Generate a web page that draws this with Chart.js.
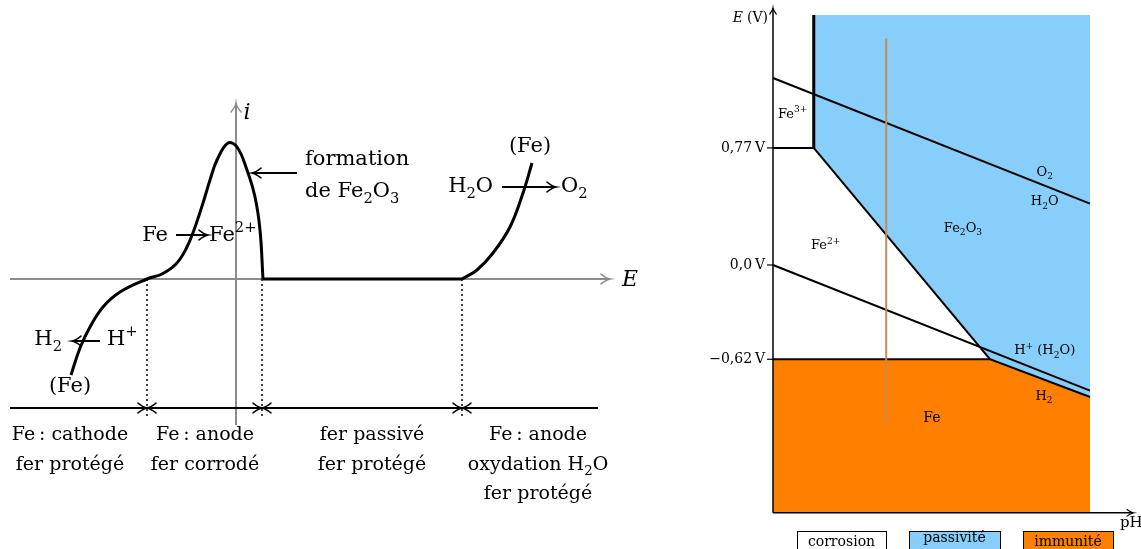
<!DOCTYPE html>
<html>
<head>
<meta charset="utf-8">
<script src="https://cdn.jsdelivr.net/npm/chart.js@4/dist/chart.umd.min.js"></script>
<style>
html, body { margin: 0; padding: 0; background: #fff; overflow: hidden; }
#left { position: absolute; left: 0; top: 0; }
#right { position: absolute; left: 680px; top: 0; }
</style>
</head>
<body>
<canvas id="left" width="680" height="549"></canvas>
<canvas id="right" width="461" height="549"></canvas>
<script>
// ---------- left chart : i = f(E) (arbitrary units) ----------
var activeE = [-16.5, -15.6, -14.6, -13.3, -11.6, -8.9, -7.4, -6.0, -5.0, -4.2, -3.3, -2.6, -1.9, -0.8, 0.1, 1.1, 1.9, 2.4, 2.7];
var activeI = [-9.6, -6.9, -4.8, -2.8, -1.3, 0, 0.5, 1.5, 3.0, 4.9, 7.6, 9.9, 11.9, 13.6, 13.2, 10.9, 8.2, 4.9, 0];
var passiveE = [2.7, 22.6];
var passiveI = [0, 0];
var transE = [22.6, 24.1, 25.7, 27.4, 28.7, 29.6];
var transI = [0, 0.9, 2.6, 5.2, 8.6, 11.6];
var boundaryE = [-8.9, 2.6, 22.6];          // dotted limits between zones
var zoneCenterE = [-16.6, -3.1, 13.6, 30.2];
var zoneLabels = [
    ["Fe\u2009: cathode", "fer protégé"],
    ["Fe\u2009: anode", "fer corrodé"],
    ["fer passivé", "fer protégé"],
    ["Fe\u2009: anode", "oxydation H_2O", "fer protégé"]
];

// ---------- right chart : E = f(pH) ----------
var pHmax = 14;
var eTop = 1.645, eBottom = -1.63;
var eFe3 = 0.77, eFe = -0.62;
var pHFe3 = 1.8, pHFe2 = 9.58;
var eFeOxEnd = -0.868;
var o2E = [1.23, 0.404];
var h2E = [0, -0.826];
var samplePH = 5, sampleE = [1.49, -1.04];
var tickE = [0.77, 0, -0.62];
var tickLabels = ["0,77\u2009V", "0,0\u2009V", "\u22120,62\u2009V"];
var legendNames = ["corrosion", "passivité", "immunité"];
var legendColors = ["#ffffff", "#87CEFA", "#FF8000"];

var SERIF = "'DejaVu Serif', serif";

// splits "Fe_2O_3", "Fe^{2+}" into normal / sub / sup parts
function parseRich(s) {
    var parts = [], buf = "", i = 0;
    while (i < s.length) {
        var c = s[i];
        if (c === "_" || c === "^") {
            if (buf) { parts.push({ t: buf, k: 0 }); buf = ""; }
            var t;
            if (s[i + 1] === "{") { var j = s.indexOf("}", i); t = s.slice(i + 2, j); i = j + 1; }
            else { t = s[i + 1]; i += 2; }
            parts.push({ t: t, k: c === "_" ? -1 : 1 });
        } else { buf += c; i++; }
    }
    if (buf) parts.push({ t: buf, k: 0 });
    return parts;
}

function drawRich(ctx, s, x, y, size, align, italic) {
    var parts = parseRich(s);
    var st = italic ? "italic " : "";
    var w = 0;
    parts.forEach(function (p) {
        ctx.font = st + (p.k ? size * 0.7 : size) + "px " + SERIF;
        p.w = ctx.measureText(p.t).width;
        w += p.w;
    });
    var cx = align === "center" ? x - w / 2 : align === "right" ? x - w : x;
    ctx.textAlign = "left";
    ctx.textBaseline = "middle";
    parts.forEach(function (p) {
        ctx.font = st + (p.k ? size * 0.7 : size) + "px " + SERIF;
        var dy = p.k === -1 ? size * 0.32 : p.k === 1 ? -size * 0.35 : 0;
        ctx.fillText(p.t, cx, y + dy);
        cx += p.w;
    });
}

// LaTeX like arrow tip at (x2,y2)
function arrowHead(ctx, x1, y1, x2, y2, len, color, lw) {
    var a = Math.atan2(y2 - y1, x2 - x1);
    ctx.save();
    ctx.strokeStyle = color;
    ctx.lineWidth = lw;
    ctx.lineCap = "round";
    ctx.translate(x2, y2);
    ctx.rotate(a);
    ctx.beginPath();
    ctx.moveTo(-len, -len * 0.55);
    ctx.quadraticCurveTo(-len * 0.35, -len * 0.05, 0, 0);
    ctx.quadraticCurveTo(-len * 0.35, len * 0.05, -len, len * 0.55);
    ctx.stroke();
    ctx.restore();
}

function zip(xs, ys) {
    return xs.map(function (x, k) { return { x: x, y: ys[k] }; });
}

function seg(x1, y1, x2, y2) { return [{ x: x1, y: y1 }, { x: x2, y: y2 }]; }

function lineSet(data, color, width, extra) {
    var d = { data: data, showLine: true, borderColor: color, borderWidth: width,
        pointRadius: 0, fill: false, clip: false, tension: 0 };
    for (var k in extra) d[k] = extra[k];
    return d;
}

function baseOptions(xmin, xmax, ymin, ymax) {
    return {
        responsive: false,
        animation: false,
        layout: { padding: 0 },
        events: [],
        plugins: { legend: { display: false }, tooltip: { enabled: false } },
        scales: {
            x: { type: "linear", display: false, min: xmin, max: xmax },
            y: { type: "linear", display: false, min: ymin, max: ymax }
        }
    };
}

// ---------- left chart ----------
var eMin = -22.6, eMax = 37.4, eBarEnd = 36.2, iAxisMin = -14.6, iAxisMax = 17.6, iBar = -12.9;

var leftSets = [
    lineSet(zip(activeE, activeI), "#000", 3, { tension: 0.4, order: 0 }),
    lineSet(zip(passiveE, passiveI), "#000", 3, { order: 0 }),
    lineSet(zip(transE, transI), "#000", 3, { tension: 0.4, order: 0 }),
    lineSet(seg(eMin, 0, eMax, 0), "#8c8c8c", 2, { order: 2 }),
    lineSet(seg(0, iAxisMin, 0, iAxisMax), "#8c8c8c", 2, { order: 2 }),
    lineSet(seg(eMin, iBar, eBarEnd, iBar), "#000", 2, { order: 1 })
];
boundaryE.forEach(function (b) {
    leftSets.push(lineSet(seg(b, 0, b, iBar - 0.9), "#000", 1.5, { borderDash: [2, 3], order: 1 }));
});

var leftNotes = {
    id: "leftNotes",
    afterDatasetsDraw: function (chart) {
        var ctx = chart.ctx, sx = chart.scales.x, sy = chart.scales.y;
        var X = function (v) { return sx.getPixelForValue(v); };
        var Y = function (v) { return sy.getPixelForValue(v); };
        ctx.save();
        ctx.fillStyle = "#000";
        // axis arrows
        arrowHead(ctx, X(eMin), Y(0), X(eMax), Y(0), 9, "#8c8c8c", 1.5);
        arrowHead(ctx, X(0), Y(iAxisMin), X(0), Y(iAxisMax), 9, "#8c8c8c", 1.5);
        drawRich(ctx, "E", X(39.4), Y(-0.1), 22, "center", true);
        drawRich(ctx, "i", X(1.1), Y(16.6), 22, "center", true);
        // zone arrows on the bottom line
        boundaryE.forEach(function (b) {
            arrowHead(ctx, X(b - 3), Y(iBar), X(b), Y(iBar), 9, "#000", 1.5);
            arrowHead(ctx, X(b + 3), Y(iBar), X(b), Y(iBar), 9, "#000", 1.5);
        });
        // reaction arrows
        var arrows = [[-6.0, 4.4, -2.8, 4.4], [-13.6, -6.2, -16.4, -6.2], [6.1, 10.6, 1.6, 10.6], [26.6, 9.2, 32.0, 9.2]];
        arrows.forEach(function (a) {
            ctx.strokeStyle = "#000";
            ctx.lineWidth = 2;
            ctx.beginPath();
            ctx.moveTo(X(a[0]), Y(a[1]));
            ctx.lineTo(X(a[2]), Y(a[3]));
            ctx.stroke();
            arrowHead(ctx, X(a[0]), Y(a[1]), X(a[2]), Y(a[3]), 9, "#000", 1.5);
        });
        var S = 21;
        drawRich(ctx, "Fe", X(-6.8), Y(4.3), S, "right");
        drawRich(ctx, "Fe^{2+}", X(-2.7), Y(4.3), S, "left");
        drawRich(ctx, "H_2", X(-17.4), Y(-6.1), S, "right");
        drawRich(ctx, "H^+", X(-12.9), Y(-6.1), S, "left");
        drawRich(ctx, "(Fe)", X(-16.6), Y(-10.8), S, "center");
        drawRich(ctx, "(Fe)", X(29.4), Y(13.2), S, "center");
        drawRich(ctx, "formation", X(6.9), Y(11.9), S, "left");
        drawRich(ctx, "de Fe_2O_3", X(6.9), Y(8.7), S, "left");
        drawRich(ctx, "H_2O", X(25.7), Y(9.2), S, "right");
        drawRich(ctx, "O_2", X(32.5), Y(9.2), S, "left");
        // zone labels
        var rows = [-15.6, -18.6, -21.5];
        zoneLabels.forEach(function (lines, k) {
            lines.forEach(function (txt, r) {
                drawRich(ctx, txt, X(zoneCenterE[k]), Y(rows[r]), 19, "center");
            });
        });
        ctx.restore();
    }
};

new Chart(document.getElementById("left"), {
    type: "scatter",
    data: { datasets: leftSets },
    options: baseOptions(-23.6, 44.4, -27.0, 27.9),
    plugins: [leftNotes]
});

// ---------- right chart ----------
var blueZone = [
    { x: pHFe3, y: eTop }, { x: pHmax, y: eTop }, { x: pHmax, y: eFeOxEnd },
    { x: pHFe2, y: eFe }, { x: pHFe3, y: eFe3 }, { x: pHFe3, y: eTop }
];
var orangeZone = [
    { x: 0, y: eFe }, { x: pHFe2, y: eFe }, { x: pHmax, y: eFeOxEnd },
    { x: pHmax, y: eBottom }, { x: 0, y: eBottom }, { x: 0, y: eFe }
];
var pHAxisEnd = 15.9, eAxisEnd = 1.69;

var rightSets = [
    lineSet(blueZone, "rgba(0,0,0,0)", 0, { fill: "shape", backgroundColor: "#87CEFA", order: 5 }),
    lineSet(orangeZone, "rgba(0,0,0,0)", 0, { fill: "shape", backgroundColor: "#FF8000", order: 5 }),
    lineSet(seg(0, o2E[0], pHmax, o2E[1]), "#000", 2, { order: 1 }),
    lineSet(seg(0, h2E[0], pHmax, h2E[1]), "#000", 2, { order: 1 }),
    lineSet(seg(pHFe3, eTop, pHFe3, eFe3), "#000", 3, { order: 1 }),
    lineSet(seg(0, eFe3, pHFe3, eFe3), "#000", 2, { order: 1 }),
    lineSet([{ x: pHFe3, y: eFe3 }, { x: pHFe2, y: eFe }, { x: pHmax, y: eFeOxEnd }], "#000", 2, { order: 1 }),
    lineSet(seg(0, eFe, pHFe2, eFe), "#000", 2, { order: 1 }),
    lineSet(seg(samplePH, sampleE[0], samplePH, sampleE[1]), "#C98A50", 2, { order: 0 }),
    lineSet(seg(0, eBottom, 0, eAxisEnd), "#000", 1.5, { order: 1 }),
    lineSet(seg(0, eBottom, pHAxisEnd, eBottom), "#000", 1.5, { order: 1 })
];

var rightNotes = {
    id: "rightNotes",
    afterDatasetsDraw: function (chart) {
        var ctx = chart.ctx, sx = chart.scales.x, sy = chart.scales.y;
        var X = function (v) { return sx.getPixelForValue(v); };
        var Y = function (v) { return sy.getPixelForValue(v); };
        ctx.save();
        ctx.fillStyle = "#000";
        arrowHead(ctx, X(0), Y(eBottom), X(0), Y(eAxisEnd), 6, "#000", 1.2);
        arrowHead(ctx, X(0), Y(eBottom), X(pHAxisEnd), Y(eBottom), 6, "#000", 1.2);
        // ticks
        tickE.forEach(function (e, k) {
            ctx.strokeStyle = "#000";
            ctx.lineWidth = 1.2;
            ctx.beginPath();
            ctx.moveTo(X(0) - 6, Y(e));
            ctx.lineTo(X(0), Y(e));
            ctx.stroke();
            drawRich(ctx, tickLabels[k], X(0) - 8, Y(e), 14, "right");
        });
        drawRich(ctx, "E", X(0) - 30, Y(1.625), 14, "right", true);
        drawRich(ctx, "(V)", X(0) - 5, Y(1.625), 14, "right");
        drawRich(ctx, "pH", X(15.32), Y(-1.70), 15, "left");
        var S = 13;
        drawRich(ctx, "Fe^{3+}", X(0.22), Y(0.99), S, "left");
        drawRich(ctx, "Fe^{2+}", X(1.68), Y(0.125), S, "left");
        drawRich(ctx, "Fe_2O_3", X(8.39), Y(0.237), S, "center");
        drawRich(ctx, "O_2", X(12.0), Y(0.61), S, "center");
        drawRich(ctx, "H_2O", X(12.0), Y(0.414), S, "center");
        drawRich(ctx, "H^+ (H_2O)", X(12.0), Y(-0.566), S, "center");
        drawRich(ctx, "H_2", X(11.97), Y(-0.868), S, "center");
        drawRich(ctx, "Fe", X(7.02), Y(-1.007), 14, "center");
        // legend boxes
        var boxX = [117, 229, 343], boxW = [89, 91, 90];
        legendNames.forEach(function (name, k) {
            ctx.fillStyle = legendColors[k];
            ctx.fillRect(boxX[k], 531, boxW[k], 30);
            ctx.strokeStyle = "#000";
            ctx.lineWidth = 1;
            ctx.strokeRect(boxX[k] + 0.5, 531.5, boxW[k], 30);
            ctx.fillStyle = "#000";
            drawRich(ctx, name, boxX[k] + boxW[k] / 2, k === 1 ? 538 : 542, 14, "center");
        });
        ctx.restore();
    }
};

new Chart(document.getElementById("right"), {
    type: "scatter",
    data: { datasets: rightSets },
    options: baseOptions(-4.107, 16.252, -1.868, 1.743),
    plugins: [rightNotes]
});
</script>
</body>
</html>
